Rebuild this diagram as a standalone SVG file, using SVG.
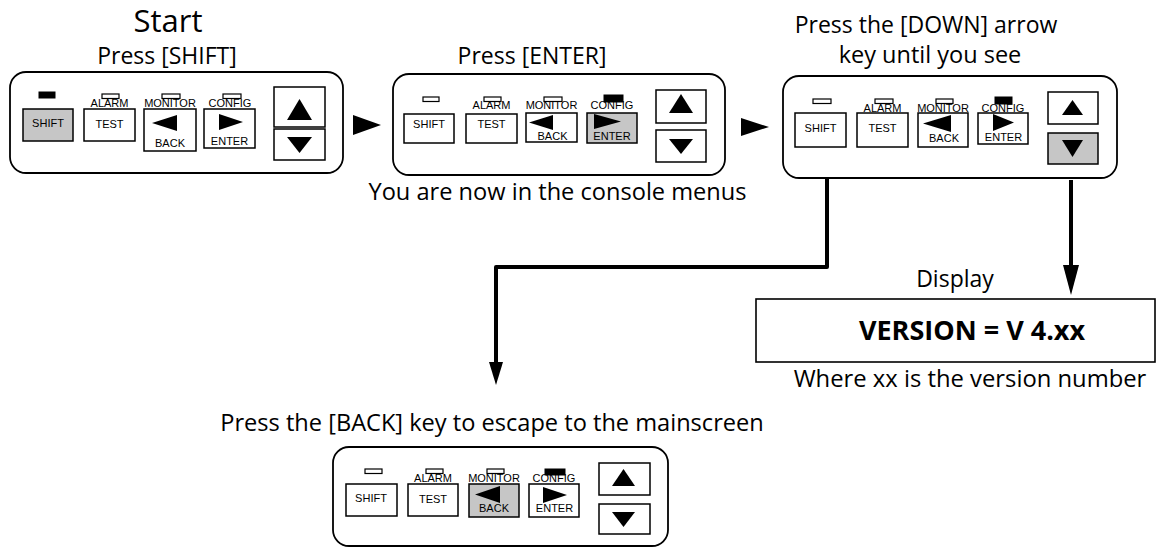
<svg xmlns="http://www.w3.org/2000/svg" width="1163" height="548" viewBox="0 0 1163 548">
<style>
.panel{fill:#fff;stroke:#000;stroke-width:1.8}
.btn{fill:#fff;stroke:#000;stroke-width:1.5}
.on{fill:#c6c6c6}
.led{fill:#fff;stroke:#000;stroke-width:1.2}
.ledon{fill:#000;stroke:#000;stroke-width:1}
.k{font-family:"Liberation Sans",Arial,sans-serif;font-size:11px;text-anchor:middle;fill:#000}
.h{font-family:"Open Sans",sans-serif;font-size:23px;text-anchor:middle;fill:#000}
.tri{fill:#000}
.conn{fill:none;stroke:#000;stroke-width:4;stroke-linejoin:round}
</style>
<rect width="1163" height="548" fill="#fff"/>

<g id="titles">
<text class="h" x="168" y="32" style="font-size:31px">Start</text>
<text class="h" x="167" y="64">Press [SHIFT]</text>
<text class="h" x="532" y="64">Press [ENTER]</text>
<text class="h" x="926" y="33">Press the [DOWN] arrow</text>
<text class="h" x="930" y="63" style="font-size:23.5px">key until you see</text>
<text class="h" x="557.5" y="200" style="font-size:23.6px">You are now in the console menus</text>
<text class="h" x="492" y="431" style="font-size:23.6px">Press the [BACK] key to escape to the mainscreen</text>
</g>

<g id="panel1">
<rect class="panel" x="10" y="72" width="333" height="101" rx="16"/>
<rect class="ledon" x="39" y="92" width="16" height="6"/>
<rect class="led" x="102" y="94" width="17" height="4.5"/>
<rect class="led" x="162" y="94" width="18" height="4.5"/>
<rect class="led" x="223" y="94" width="18" height="4.5"/>
<text class="k" x="109.5" y="107">ALARM</text>
<text class="k" x="170" y="107">MONITOR</text>
<text class="k" x="230" y="107">CONFIG</text>
<rect class="btn on" x="23" y="109" width="50" height="32"/>
<text class="k" x="48" y="127">SHIFT</text>
<rect class="btn" x="84" y="109" width="51" height="32"/>
<text class="k" x="109.5" y="128">TEST</text>
<rect class="btn" x="144" y="109" width="52" height="42"/>
<polygon class="tri" points="152,123 177,115 177,131"/>
<text class="k" x="170" y="147">BACK</text>
<rect class="btn" x="204" y="109" width="51" height="39"/>
<polygon class="tri" points="219,114 219,130 243,122"/>
<text class="k" x="229.5" y="145">ENTER</text>
<rect class="btn" x="274" y="87" width="51" height="40"/>
<polygon class="tri" points="299.5,99 312,120 287,120"/>
<rect class="btn" x="274" y="129" width="51" height="31"/>
<polygon class="tri" points="287,137 312,137 299.5,153"/>
</g>

<g id="panel2">
<rect class="panel" x="393" y="74" width="332" height="101" rx="16"/>
<rect class="led" x="423" y="97" width="16" height="4.5"/>
<rect class="led" x="484" y="97" width="17" height="4.5"/>
<rect class="led" x="544" y="97" width="18" height="4.5"/>
<rect class="ledon" x="604" y="95" width="19" height="7"/>
<text class="k" x="491.5" y="109">ALARM</text>
<text class="k" x="551.5" y="109">MONITOR</text>
<text class="k" x="612" y="109">CONFIG</text>
<rect class="btn" x="404" y="114" width="50" height="29"/>
<text class="k" x="429" y="128">SHIFT</text>
<rect class="btn" x="466" y="114" width="51" height="29"/>
<text class="k" x="491.5" y="128">TEST</text>
<rect class="btn" x="526" y="113" width="51" height="29"/>
<polygon class="tri" points="529,122.5 553,115 553,130"/>
<text class="k" x="552.5" y="140">BACK</text>
<rect class="btn on" x="587" y="113" width="50" height="30"/>
<polygon class="tri" points="594,114 594,129 621,121.5"/>
<text class="k" x="612" y="140">ENTER</text>
<rect class="btn" x="656" y="90" width="50" height="33"/>
<polygon class="tri" points="681,94 693,113 669,113"/>
<rect class="btn" x="656" y="130" width="50" height="32"/>
<polygon class="tri" points="669,139 693,139 681,154"/>
</g>

<g id="panel3">
<rect class="panel" x="783" y="76" width="334" height="102" rx="16"/>
<rect class="led" x="813" y="99" width="18" height="4.5"/>
<rect class="led" x="875" y="99" width="18" height="4.5"/>
<rect class="led" x="936" y="99" width="17" height="4.5"/>
<rect class="ledon" x="995" y="97" width="17" height="7"/>
<text class="k" x="882.5" y="112">ALARM</text>
<text class="k" x="943" y="112">MONITOR</text>
<text class="k" x="1003" y="112">CONFIG</text>
<rect class="btn" x="795" y="113" width="51" height="34"/>
<text class="k" x="820.5" y="132">SHIFT</text>
<rect class="btn" x="857" y="113" width="51" height="34"/>
<text class="k" x="882.5" y="132">TEST</text>
<rect class="btn" x="918" y="113" width="50" height="34"/>
<polygon class="tri" points="923,123.5 951,115 951,132"/>
<text class="k" x="944" y="142">BACK</text>
<rect class="btn" x="978" y="113" width="50" height="31"/>
<polygon class="tri" points="993,114 993,131 1014,122.5"/>
<text class="k" x="1003.5" y="141">ENTER</text>
<rect class="btn" x="1048" y="92" width="50" height="32"/>
<polygon class="tri" points="1072.5,100 1083,115 1062,115"/>
<rect class="btn on" x="1048" y="133" width="50" height="31"/>
<polygon class="tri" points="1062,140 1083,140 1072.5,157"/>
</g>

<g id="panel4">
<rect class="panel" x="333" y="447" width="335" height="99" rx="16"/>
<rect class="led" x="365" y="469" width="17" height="4.5"/>
<rect class="led" x="426" y="469" width="17" height="4.5"/>
<rect class="led" x="487" y="469" width="17" height="4.5"/>
<rect class="ledon" x="545" y="469" width="20" height="6"/>
<text class="k" x="433" y="482">ALARM</text>
<text class="k" x="494" y="482">MONITOR</text>
<text class="k" x="554" y="482">CONFIG</text>
<rect class="btn" x="346" y="484" width="51" height="32"/>
<text class="k" x="371" y="502">SHIFT</text>
<rect class="btn" x="408" y="484" width="50" height="32"/>
<text class="k" x="433" y="503">TEST</text>
<rect class="btn on" x="469" y="484" width="50" height="33"/>
<polygon class="tri" points="475,494.5 500,486 500,503"/>
<text class="k" x="494" y="512">BACK</text>
<rect class="btn" x="529" y="484" width="50" height="33"/>
<polygon class="tri" points="543,487 543,503 567,495"/>
<text class="k" x="554.5" y="512">ENTER</text>
<rect class="btn" x="599" y="463" width="51" height="32"/>
<polygon class="tri" points="623.5,469 635,486 612,486"/>
<rect class="btn" x="599" y="504" width="51" height="30"/>
<polygon class="tri" points="612,512 635,512 623.5,527"/>
</g>

<g id="display">
<text class="h" x="955" y="287">Display</text>
<rect x="756" y="299" width="399" height="63" fill="#fff" stroke="#000" stroke-width="1.6"/>
<text class="h" x="972" y="340" style="font-weight:bold;font-size:27px">VERSION = V 4.xx</text>
<text class="h" x="970" y="387" style="font-size:23.8px">Where xx is the version number</text>
</g>

<g id="connectors">
<polygon class="tri" points="353,115 353,135 381,125"/>
<polygon class="tri" points="741,118 741,136 769,127"/>
<path class="conn" d="M827,178 V267 H496 V366"/>
<polygon class="tri" points="489,362 503,362 496,385"/>
<path class="conn" d="M1071,180 V268"/>
<polygon class="tri" points="1063,265 1079,265 1071,295"/>
</g>
</svg>
